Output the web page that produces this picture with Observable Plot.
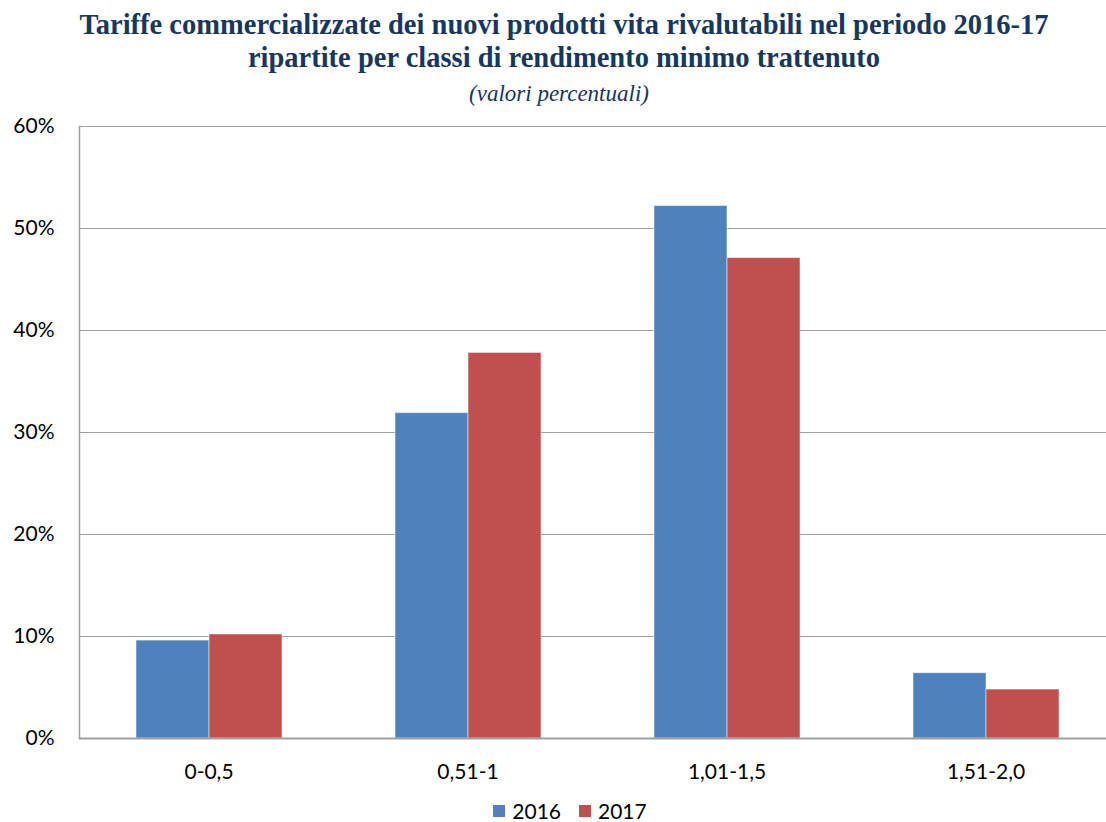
<!DOCTYPE html>
<html>
<head>
<meta charset="utf-8">
<script src="https://cdn.jsdelivr.net/npm/d3@7"></script>
<script src="https://cdn.jsdelivr.net/npm/@observablehq/plot@0.6"></script>
<style>
  html, body { margin: 0; background: #fff; overflow: hidden; }
  body { width: 1106px; height: 822px; }
  #title { font-family: "Liberation Serif", serif; font-weight: bold; color: #17375E; font-size: 28.5px; text-align: center; line-height: 33px; padding-top: 8px; margin-left: 11px; width: 1106px; }
  #subtitle { font-family: "Liberation Serif", serif; font-style: italic; color: #17375E; font-size: 23px; text-align: center; line-height: 30px; margin-top: 5px; margin-left: 6px; width: 1106px; }
  #chart { height: 680px; width: 1106px; overflow: hidden; }
  #chart svg { max-width: none !important; display: block; }
  #legend { font-family: Lato, "Open Sans", sans-serif; font-size: 21px; line-height: 20px; height: 20px; color: #000; display: flex; justify-content: center; gap: 18px; margin-left: 17px; margin-top: 12px; width: 1106px; }
  .item { display: flex; align-items: center; gap: 7px; }
  .sw { width: 12px; height: 12px; display: inline-block; }
</style>
</head>
<body>
<div id="title">Tariffe commercializzate dei nuovi prodotti vita rivalutabili nel periodo 2016-17<br>ripartite per classi di rendimento minimo trattenuto</div>
<div id="subtitle">(valori percentuali)</div>
<div id="chart"></div>
<div id="legend"></div>
<script>
const categories = ["0-0,5", "0,51-1", "1,01-1,5", "1,51-2,0"];
const years = ["2016", "2017"];
const values2016 = [9.6, 31.9, 52.2, 6.4];
const values2017 = [10.2, 37.8, 47.1, 4.8];
const yTicks = [0, 10, 20, 30, 40, 50, 60];
const colors = ["#4F81BD", "#C0504D"];

const data = [];
categories.forEach((c, i) => {
  data.push({cat: c, year: years[0], value: values2016[i]});
  data.push({cat: c, year: years[1], value: values2017[i]});
});

const chart = Plot.plot({
  width: 1116,
  height: 680,
  marginLeft: 78,
  marginRight: 0,
  marginTop: 17,
  marginBottom: 51,
  style: {fontFamily: "Lato, 'Open Sans', sans-serif", fontSize: "18px", color: "#000", overflow: "visible", maxWidth: "none"},
  fx: {domain: categories, padding: 0, label: null, axis: null},
  x: {domain: years, paddingInner: 0, paddingOuter: 0.752, axis: null},
  y: {domain: [0, 60], ticks: yTicks, label: null},
  color: {domain: years, range: colors},
  marks: [
    Plot.ruleY(yTicks.filter(d => d > 0), {stroke: "#A0A0A0", strokeWidth: 1.2}),
    Plot.barY(data, {fx: "cat", x: "year", y: "value", fill: "year", stroke: "#ffffff", strokeOpacity: 0.5, strokeWidth: 1, inset: 0}),
    Plot.ruleY([0], {stroke: "#A0A0A0", strokeWidth: 2}),
    Plot.frame({anchor: "left", stroke: "#A0A0A0", strokeWidth: 1.5, facetAnchor: "left"}),
    Plot.axisY({ticks: yTicks, tickSize: 0, tickPadding: 25, tickFormat: d => d + "%", label: null, fontSize: 21}),
    Plot.axisFx({domain: categories, tickSize: 0, tickPadding: 26, label: null, fontSize: 21, anchor: "bottom"})
  ]
});
document.getElementById("chart").appendChild(chart);

const legend = document.getElementById("legend");
years.forEach((y, i) => {
  const it = document.createElement("div");
  it.className = "item";
  const sw = document.createElement("span");
  sw.className = "sw";
  sw.style.background = colors[i];
  const t = document.createElement("span");
  t.textContent = y;
  it.appendChild(sw);
  it.appendChild(t);
  legend.appendChild(it);
});
</script>
</body>
</html>
